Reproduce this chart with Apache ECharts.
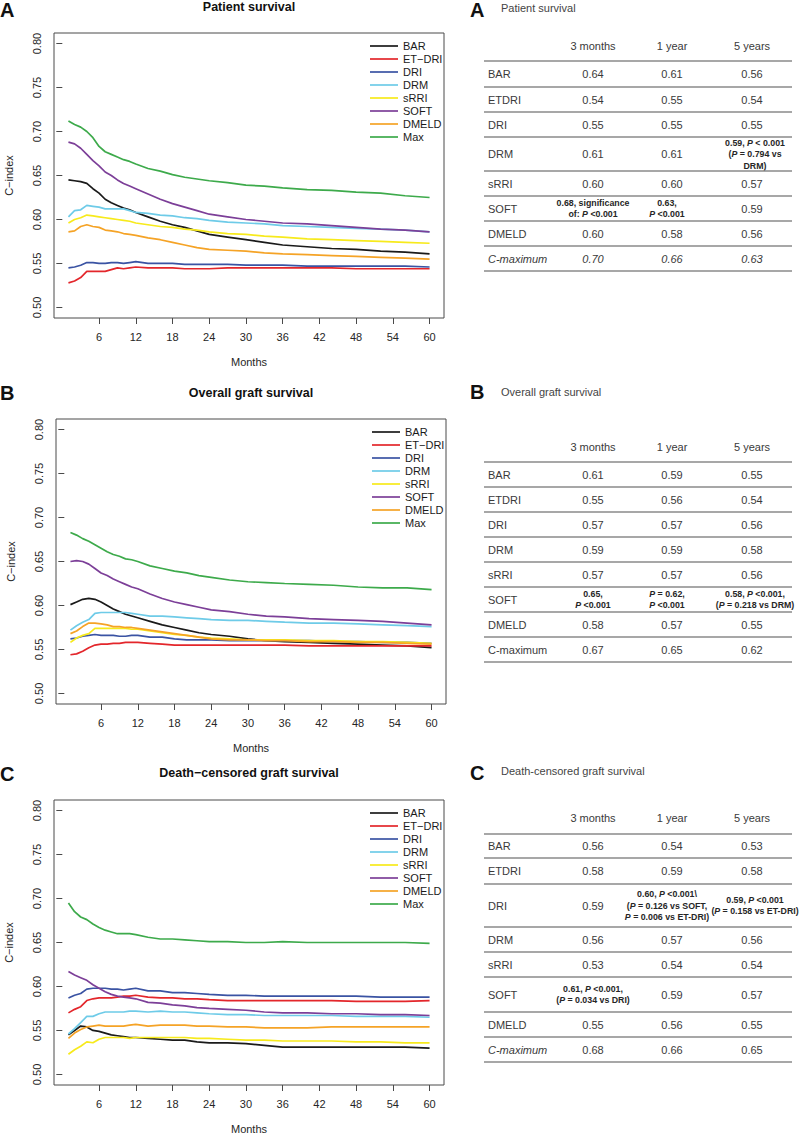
<!DOCTYPE html>
<html><head><meta charset="utf-8">
<script src="https://cdn.jsdelivr.net/npm/echarts@6/dist/echarts.min.js"></script>
<style>html,body{margin:0;padding:0;background:#fff}#c{width:800px;height:1135px}</style>
</head><body><div id="c"></div>
<script>
// ---------------- DATA ----------------
const months = [1,2,3,4,5,6,7,8,9,10,11,12,14,16,18,20,22,24,27,30,33,36,40,44,48,52,56,60];
const seriesNames = ['BAR','ET\u2212DRI','DRI','DRM','sRRI','SOFT','DMELD','Max'];
const xTickValues = [6,12,18,24,30,36,42,48,54,60];
const yTickValues = [0.50,0.55,0.60,0.65,0.70,0.75,0.80];
const panelLetters = ['A','B','C'];
const chartTitles = ['Patient survival','Overall graft survival','Death\u2212censored graft survival'];
const tableTitles = ['Patient survival','Overall graft survival','Death-censored graft survival'];

// Panel A: patient survival
const patientBAR   = [.645,.644,.643,.641,.635,.630,.623,.619,.616,.613,.611,.608,.603,.598,.594,.591,.587,.583,.580,.577,.574,.571,.569,.567,.566,.564,.563,.561];
const patientETDRI = [.528,.530,.534,.541,.541,.541,.541,.543,.545,.544,.545,.546,.545,.545,.545,.544,.544,.544,.545,.545,.545,.545,.545,.545,.544,.544,.544,.544];
const patientDRI   = [.545,.546,.548,.551,.551,.550,.550,.551,.551,.550,.551,.552,.550,.550,.550,.549,.549,.549,.549,.548,.548,.548,.547,.547,.547,.547,.547,.546];
const patientDRM   = [.603,.610,.611,.616,.615,.614,.612,.612,.612,.612,.610,.608,.607,.605,.604,.602,.601,.599,.597,.596,.595,.593,.592,.591,.590,.589,.588,.586];
const patientSRRI  = [.596,.600,.602,.605,.604,.603,.602,.601,.600,.599,.598,.596,.594,.592,.591,.589,.588,.586,.584,.583,.581,.580,.578,.577,.576,.575,.574,.573];
const patientSOFT  = [.688,.686,.681,.674,.667,.661,.654,.650,.645,.641,.638,.635,.629,.623,.618,.614,.610,.606,.603,.600,.598,.596,.595,.593,.591,.589,.588,.586];
const patientDMELD = [.586,.587,.592,.594,.592,.591,.588,.587,.586,.584,.583,.582,.579,.577,.574,.571,.568,.566,.565,.564,.562,.561,.560,.559,.558,.557,.556,.555];
const patientMax   = [.712,.708,.705,.700,.693,.683,.677,.674,.671,.668,.666,.663,.658,.655,.651,.648,.646,.644,.642,.639,.638,.636,.634,.633,.631,.630,.627,.625];

// Panel B: overall graft survival
const graftBAR   = [.601,.604,.607,.608,.607,.604,.600,.596,.593,.590,.588,.586,.582,.578,.575,.572,.569,.567,.565,.562,.560,.559,.558,.557,.556,.555,.554,.552];
const graftETDRI = [.544,.545,.548,.552,.555,.556,.556,.557,.557,.558,.558,.558,.557,.556,.555,.555,.555,.555,.555,.555,.555,.555,.554,.554,.554,.554,.554,.554];
const graftDRI   = [.562,.563,.565,.566,.567,.566,.566,.566,.565,.565,.566,.566,.564,.564,.562,.561,.561,.561,.560,.560,.560,.560,.560,.559,.559,.558,.558,.557];
const graftDRM   = [.572,.577,.581,.584,.591,.592,.592,.592,.592,.592,.591,.590,.588,.588,.587,.586,.585,.584,.583,.583,.582,.581,.580,.580,.579,.578,.577,.576];
const graftSRRI  = [.558,.563,.566,.568,.574,.574,.574,.574,.574,.574,.573,.573,.571,.569,.567,.566,.564,.563,.562,.561,.561,.561,.560,.560,.559,.559,.558,.557];
const graftSOFT  = [.650,.651,.650,.647,.642,.637,.634,.630,.627,.624,.621,.619,.613,.608,.604,.601,.598,.595,.593,.590,.588,.587,.585,.584,.583,.582,.580,.578];
const graftDMELD = [.568,.571,.576,.580,.580,.579,.578,.576,.576,.575,.575,.574,.572,.570,.568,.566,.564,.562,.561,.561,.560,.560,.559,.559,.558,.558,.557,.556];
const graftMax   = [.683,.680,.676,.673,.669,.665,.661,.658,.656,.653,.652,.650,.645,.642,.639,.637,.634,.632,.629,.627,.626,.625,.624,.623,.621,.620,.620,.618];

// Panel C: death-censored graft survival
const dcgsBAR   = [.545,.550,.555,.554,.550,.549,.547,.545,.544,.543,.542,.542,.541,.540,.539,.539,.537,.536,.536,.535,.533,.531,.531,.531,.531,.531,.531,.530];
const dcgsETDRI = [.570,.574,.577,.584,.586,.587,.587,.587,.588,.589,.589,.590,.588,.587,.587,.586,.586,.585,.584,.584,.584,.584,.584,.584,.583,.583,.583,.584];
const dcgsDRI   = [.587,.590,.592,.597,.598,.598,.598,.597,.597,.596,.597,.598,.595,.595,.593,.593,.592,.591,.590,.590,.589,.589,.589,.589,.589,.588,.588,.588];
const dcgsDRM   = [.546,.552,.559,.566,.566,.569,.571,.571,.571,.571,.572,.572,.571,.572,.571,.571,.570,.569,.568,.568,.567,.567,.567,.567,.566,.566,.566,.565];
const dcgsSRRI  = [.523,.528,.532,.537,.536,.540,.542,.542,.542,.542,.541,.542,.542,.542,.542,.542,.541,.541,.540,.539,.539,.538,.538,.538,.537,.537,.536,.536];
const dcgsSOFT  = [.617,.613,.610,.607,.602,.598,.594,.591,.589,.588,.587,.586,.582,.581,.579,.578,.576,.575,.574,.573,.571,.570,.570,.569,.569,.568,.568,.567];
const dcgsDMELD = [.541,.547,.551,.554,.555,.556,.555,.555,.555,.555,.556,.557,.555,.556,.556,.556,.555,.555,.554,.554,.553,.553,.553,.554,.554,.554,.554,.554];
const dcgsMax   = [.695,.685,.679,.676,.671,.667,.664,.662,.660,.660,.660,.659,.656,.654,.654,.653,.652,.651,.651,.650,.650,.651,.650,.650,.650,.650,.650,.649];

// Tables
const tableColumns = ['3 months','1 year','5 years'];
const tableRowNames = ['BAR','ETDRI','DRI','DRM','sRRI','SOFT','DMELD','C-maximum'];
const patient3m = ['0.64','0.54','0.55','0.61','0.60','0.68, significance\nof: P <0.001','0.60','0.70'];
const patient1y = ['0.61','0.55','0.55','0.61','0.60','0.63,\nP <0.001','0.58','0.66'];
const patient5y = ['0.56','0.54','0.55','0.59, P < 0.001\n(P = 0.794 vs\nDRM)','0.57','0.59','0.56','0.63'];
const graft3m = ['0.61','0.55','0.57','0.59','0.57','0.65,\nP <0.001','0.58','0.67'];
const graft1y = ['0.59','0.56','0.57','0.59','0.57','P = 0.62,\nP <0.001','0.57','0.65'];
const graft5y = ['0.55','0.54','0.56','0.58','0.56','0.58, P <0.001,\n(P = 0.218 vs DRM)','0.55','0.62'];
const dcgs3m = ['0.56','0.58','0.59','0.56','0.53','0.61, P <0.001,\n(P = 0.034 vs DRI)','0.55','0.68'];
const dcgs1y = ['0.54','0.59','0.60, P <0.001\\\n(P = 0.126 vs SOFT,\nP = 0.006 vs ET-DRI)','0.57','0.54','0.59','0.56','0.66'];
const dcgs5y = ['0.53','0.58','0.59, P <0.001\n(P = 0.158 vs ET-DRI)','0.56','0.54','0.57','0.55','0.65'];

// ---------------- STYLE / LAYOUT ----------------
const FONT = '"Liberation Sans", Arial, Helvetica, sans-serif';
const seriesColors = ['#1a1a1a','#e3262b','#3a53a3','#6ecbe8','#f7ea1c','#7c3f98','#f5a326','#3daa4b'];
const panels = [
  {series:[patientBAR,patientETDRI,patientDRI,patientDRM,patientSRRI,patientSOFT,patientDMELD,patientMax],
   cols:[patient3m,patient1y,patient5y],
   grid:{left:54, top:33}, legendLeft:370, legendTop:39.5,
   letterY:10, titleX:249, titleY:7, tLetterY:10, tTitleY:8,
   headerY:46, firstLine:61, rowH:[26,25,25,34,25,25,25,25], italicLabel:true, italicValues:true},
  {series:[graftBAR,graftETDRI,graftDRI,graftDRM,graftSRRI,graftSOFT,graftDMELD,graftMax],
   cols:[graft3m,graft1y,graft5y],
   grid:{left:56, top:419}, legendLeft:372, legendTop:425.5,
   letterY:393, titleX:251, titleY:393, tLetterY:392, tTitleY:392,
   headerY:447, firstLine:462, rowH:[25,25,25,25,25,25,25,25], italicLabel:false, italicValues:false},
  {series:[dcgsBAR,dcgsETDRI,dcgsDRI,dcgsDRM,dcgsSRRI,dcgsSOFT,dcgsDMELD,dcgsMax],
   cols:[dcgs3m,dcgs1y,dcgs5y],
   grid:{left:54, top:800}, legendLeft:370, legendTop:806.5,
   letterY:774, titleX:249, titleY:773, tLetterY:773, tTitleY:771,
   headerY:818, firstLine:834, rowH:[24,26,43,25,25,35,25,25], italicLabel:true, italicValues:false}
];
const GRID_W = 390, GRID_H = 285;
const colX = [593, 672, 752];
const noteX = [593, 667, 755];
const rowLabelX = 488, tableX1 = 484, tableX2 = 792;
const textColor = '#3a3a3a';

const grids = [], xAxes = [], yAxes = [], series = [], legends = [], elements = [];

function txt(x, y, text, o) {
  o = o || {};
  const st = {
    text: text, fill: o.fill || '#222', fontSize: o.fontSize || 11, fontFamily: FONT,
    fontWeight: o.fontWeight || 'normal', fontStyle: o.fontStyle || 'normal',
    align: o.align || 'left', textAlign: o.align || 'left',
    verticalAlign: 'middle', textVerticalAlign: 'middle'
  };
  if (o.rich) { st.rich = o.rich; }
  return {type: 'text', x: x, y: y, silent: true, style: st};
}
const noteRich = {
  b:  {fontSize: 8.8, fontWeight: 'bold', fontFamily: FONT, fill: '#262626', color: '#262626', lineHeight: 11.5, align: 'center'},
  bi: {fontSize: 8.8, fontWeight: 'bold', fontStyle: 'italic', fontFamily: FONT, fill: '#262626', color: '#262626', lineHeight: 11.5, align: 'center'}
};
function toRich(cell) {
  return cell.split('\n').map(line =>
    line.split(/(\bP\b)/).filter(s => s.length).map(s => s === 'P' ? '{bi|P}' : '{b|' + s + '}').join('')
  ).join('\n');
}

panels.forEach((p, i) => {
  grids.push({left: p.grid.left, top: p.grid.top, width: GRID_W, height: GRID_H,
    show: true, borderColor: '#4a4a4a', borderWidth: 1, backgroundColor: '#fff', containLabel: false});
  xAxes.push({type: 'value', gridIndex: i, min: -1.36, max: 62.36,
    axisLine: {show: false}, splitLine: {show: false},
    axisTick: {show: true, customValues: xTickValues, length: 6, lineStyle: {color: '#4a4a4a', width: 1}},
    axisLabel: {customValues: xTickValues, fontSize: 11, color: '#262626', fontFamily: FONT, margin: 13},
    name: 'Months', nameLocation: 'middle', nameGap: 38,
    nameTextStyle: {fontSize: 11, color: '#262626', fontFamily: FONT}});
  yAxes.push({type: 'value', gridIndex: i, min: 0.488, max: 0.812,
    axisLine: {show: false}, splitLine: {show: false},
    axisTick: {show: true, customValues: yTickValues, length: 6, lineStyle: {color: '#4a4a4a', width: 1}},
    axisLabel: {customValues: yTickValues, rotate: 90, fontSize: 11, color: '#262626', fontFamily: FONT, margin: 12,
      formatter: v => Number(v).toFixed(2)},
    name: 'C\u2212index', nameLocation: 'middle', nameRotate: 90, nameGap: 40,
    nameTextStyle: {fontSize: 11, color: '#262626', fontFamily: FONT}});
  p.series.forEach((vals, k) => {
    series.push({type: 'line', name: seriesNames[k], xAxisIndex: i, yAxisIndex: i,
      data: months.map((m, j) => [m, vals[j]]),
      symbol: 'none', showSymbol: false, silent: true, animation: false,
      color: seriesColors[k], lineStyle: {color: seriesColors[k], width: 1.7}});
  });
  legends.push({orient: 'vertical', left: p.legendLeft, top: p.legendTop, padding: 0,
    itemWidth: 28, itemHeight: 13, itemGap: 0, icon: 'path://M0,0H28V1.7H0Z',
    itemStyle: {borderWidth: 0}, selectedMode: false,
    textStyle: {fontSize: 11, lineHeight: 13, color: '#1a1a1a', fontFamily: FONT},
    data: seriesNames.slice()});

  // chart letter & title
  elements.push(txt(0, p.letterY, panelLetters[i], {fontSize: 20, fontWeight: 'bold', fill: '#111'}));
  elements.push(txt(p.titleX, p.titleY, chartTitles[i], {fontSize: 12.5, fontWeight: 'bold', fill: '#111', align: 'center'}));
  // table letter & title
  elements.push(txt(470, p.tLetterY, panelLetters[i], {fontSize: 20, fontWeight: 'bold', fill: '#111'}));
  elements.push(txt(501, p.tTitleY, tableTitles[i], {fontSize: 11, fill: '#444'}));
  // header
  tableColumns.forEach((c, j) => elements.push(txt(colX[j], p.headerY, c, {fill: textColor, align: 'center'})));
  // rows
  let y = p.firstLine;
  elements.push({type: 'line', silent: true, shape: {x1: tableX1, y1: y, x2: tableX2, y2: y},
    style: {stroke: '#8a8a8a', lineWidth: 1.3}});
  tableRowNames.forEach((rn, r) => {
    const h = p.rowH[r];
    const cy = y + h / 2;
    const isLast = r === tableRowNames.length - 1;
    elements.push(txt(rowLabelX, cy, rn, {fill: textColor,
      fontStyle: (isLast && p.italicLabel) ? 'italic' : 'normal'}));
    p.cols.forEach((col, j) => {
      const cell = col[r];
      if (cell.indexOf(',') >= 0) {
        elements.push(txt(noteX[j], cy, toRich(cell), {align: 'center', rich: noteRich}));
      } else {
        elements.push(txt(colX[j], cy, cell, {fill: textColor, align: 'center',
          fontStyle: (isLast && p.italicValues) ? 'italic' : 'normal'}));
      }
    });
    y += h;
    elements.push({type: 'line', silent: true, shape: {x1: tableX1, y1: y, x2: tableX2, y2: y},
      style: {stroke: '#8a8a8a', lineWidth: 1.3}});
  });
});

const chart = echarts.init(document.getElementById('c'), null, {renderer: 'svg', width: 800, height: 1135});
chart.setOption({
  animation: false,
  backgroundColor: '#fff',
  grid: grids, xAxis: xAxes, yAxis: yAxes, legend: legends, series: series,
  graphic: {elements: elements}
});
</script>
</body></html>
